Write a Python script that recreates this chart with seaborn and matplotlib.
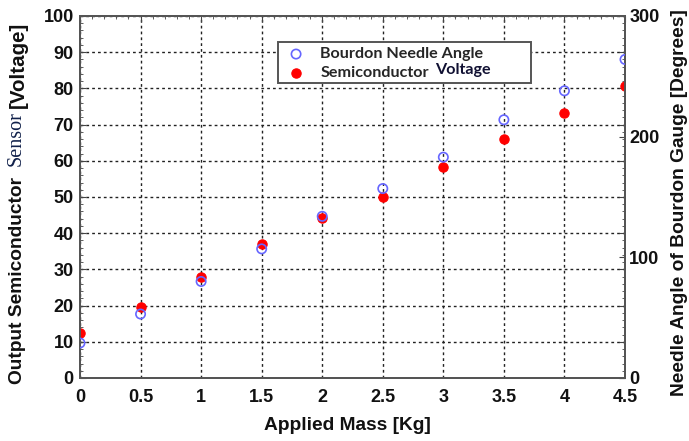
import pandas as pd
import seaborn as sns
import matplotlib.pyplot as plt
from matplotlib.patches import Rectangle
from matplotlib.ticker import MultipleLocator

# Values
mass = [0, 0.5, 1, 1.5, 2, 2.5, 3, 3.5, 4, 4.5]
sensor_voltage = [12.4, 19.7, 27.8, 36.9, 44.1, 50.1, 58.2, 65.9, 73.1, 80.7]
needle_angle = [29, 53, 80, 107, 134, 157, 183, 214, 238, 264]

x_ticks = [0, 0.5, 1, 1.5, 2, 2.5, 3, 3.5, 4, 4.5]
left_ticks = [0, 10, 20, 30, 40, 50, 60, 70, 80, 90, 100]
right_ticks = [0, 100, 200, 300]

df = pd.DataFrame({"Mass": mass, "Voltage": sensor_voltage, "Angle": needle_angle})

sns.set_style("white")
plt.rcParams["font.family"] = ["Liberation Sans", "DejaVu Sans"]

W, H = 689, 441
fig = plt.figure(figsize=(W / 100, H / 100), dpi=100)
ax = fig.add_axes([80 / W, 1 - 378 / H, 545 / W, 362 / H])
ax2 = ax.twinx()

# semiconductor voltage on the left axis
sns.scatterplot(data=df, x="Mass", y="Voltage", ax=ax, color="#ff0000",
                edgecolor="#ff0000", s=45, linewidth=0.8, zorder=3,
                label="Semiconductor", legend=False)
# needle angle on the right axis
sns.scatterplot(data=df, x="Mass", y="Angle", ax=ax2, facecolor="none",
                edgecolor="#6666ff", s=45, linewidth=1.2, zorder=3,
                label="Bourdon Needle Angle", legend=False)

ax.set_xlim(0, 4.5)
ax.set_ylim(0, 100)
ax2.set_ylim(0, 300)
ax.set_xticks(x_ticks)
ax.set_xticklabels([f"{t:g}" for t in x_ticks])
ax.set_yticks(left_ticks)
ax2.set_yticks(right_ticks)
ax.xaxis.set_minor_locator(MultipleLocator(0.1))
ax.yaxis.set_minor_locator(MultipleLocator(2))

ax.grid(True, which="major", color="#222222", linestyle=(0, (2, 2.2)), linewidth=1.0)
ax.set_axisbelow(True)

ax.tick_params(which="both", direction="in", top=True, right=True, color="#444444")
ax.tick_params(which="major", length=4, width=0.8)
ax.tick_params(which="minor", length=2.5, width=0.6)
ax.tick_params(axis="y", labelsize=13, pad=4.5)
ax.tick_params(axis="x", labelsize=13, pad=8)
ax2.tick_params(axis="y", direction="in", length=4, labelsize=13, pad=3, color="#444444")
for t in ax.get_xticklabels() + ax.get_yticklabels() + ax2.get_yticklabels():
    t.set_fontweight("bold")
    t.set_color("#111111")

for a in (ax, ax2):
    for sp in a.spines.values():
        sp.set_color("#555555")
        sp.set_linewidth(1.4)

ax.set_xlabel("")
ax.set_ylabel("")
ax2.set_ylabel("")

# axis titles
fig.text(347 / W, 1 - 425 / H, "Applied Mass [Kg]", ha="center", va="center",
         fontsize=13.8, fontweight="bold", color="#111111")
fig.text(18 / W, 1 - 384 / H, "Output Semiconductor", rotation=90, ha="center",
         va="bottom", fontsize=13.8, fontweight="bold", color="#111111")
fig.text(16.5 / W, 1 - 166 / H, "Sensor", rotation=90, ha="center", va="bottom",
         fontsize=14.5, family="Liberation Serif", color="#10204a")
fig.text(18 / W, 1 - 108 / H, "[Voltage]", rotation=90, ha="center", va="bottom",
         fontsize=14.8, fontweight="bold", color="#111111")
fig.text(680 / W, 1 - 202.5 / H, "Needle Angle of Bourdon Gauge [Degrees]", rotation=90,
         ha="center", va="center", fontsize=13.8, fontweight="bold", color="#111111")

# legend (frame drawn as a separate box so it can be wider than the labels)
h1, l1 = ax2.get_legend_handles_labels()
h2, l2 = ax.get_legend_handles_labels()
leg = fig.legend(h1 + h2, l1 + l2, loc="upper left", frameon=False,
                 bbox_to_anchor=(288 / W, 1 - 47 / H), bbox_transform=fig.transFigure,
                 borderpad=0, borderaxespad=0, handlelength=1.0, handletextpad=1.0,
                 labelspacing=0.3, prop={"family": "Lato", "weight": "bold", "size": 11.6})
leg.set_zorder(6)
fig.patches.append(Rectangle((278 / W, 1 - 83 / H), 253 / W, 41 / H,
                             transform=fig.transFigure, facecolor="white",
                             edgecolor="#555555", linewidth=1.4, zorder=5))
fig.text(435 / W, 1 - 70 / H, "Voltage", ha="left", va="center", fontsize=11.6,
         family="Lato", fontweight="bold", color="#111133", zorder=7)

fig.savefig("out.png", dpi=100)
